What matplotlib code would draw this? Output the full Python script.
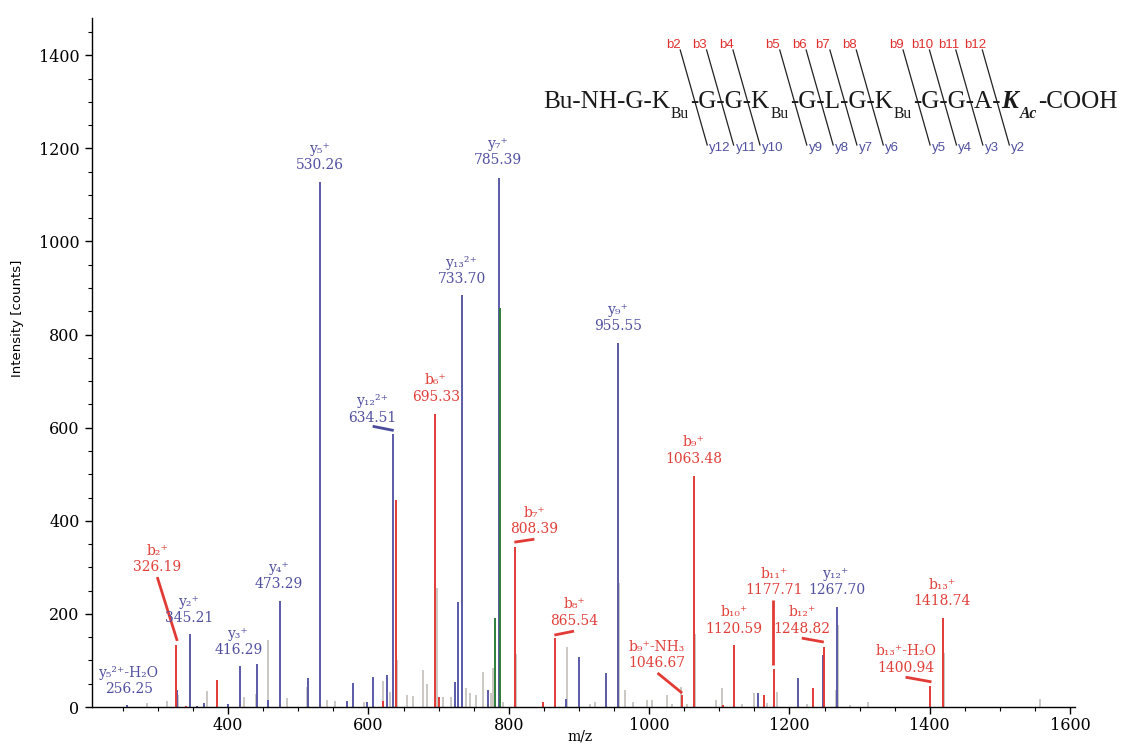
import matplotlib
matplotlib.use("Agg")
import matplotlib.pyplot as plt
from matplotlib.lines import Line2D
from matplotlib.ticker import MultipleLocator
from matplotlib.font_manager import FontProperties

# ---------------- data ----------------
blue_mz = [256.25, 327.5, 345.21, 356, 365, 400, 416.29, 441, 457, 473.29, 514, 530.26,
           569, 578, 598, 607, 626, 634.51, 724, 728, 733.70, 771, 785.39, 881, 900, 938,
           955.55, 1155, 1212, 1247.5, 1267.70]
blue_int = [4, 36, 157, 3, 8, 6, 88, 92, 15, 227, 62, 1127,
            13, 51, 10, 64, 69, 586, 54, 225, 884, 36, 1137, 17, 107, 73,
            781, 30, 62, 112, 215]

red_mz = [326.19, 340, 384, 621, 639, 695.33, 701, 808.39, 849, 865.54, 1046.67, 1063.48,
          1105, 1120.59, 1164, 1177.71, 1233, 1248.82, 1400.94, 1418.74]
red_int = [133, 3, 58, 13, 444, 629, 22, 343, 11, 148, 26, 496,
           5, 133, 26, 81, 41, 129, 45, 191]

green_mz = [780, 787.5]
green_int = [191, 856]

gray_mz = [285, 313, 329, 370, 423, 440, 457, 484, 512, 531.5, 541, 552, 594, 621, 631, 640,
           655, 663, 678, 683, 697, 706, 718, 739, 745, 753, 763, 774, 777, 792, 810, 883,
           916, 923, 957, 966, 977, 997, 1004, 1025, 1032, 1045, 1054, 1065, 1095, 1104,
           1133, 1150, 1168, 1182, 1225, 1266, 1269.5, 1286, 1312, 1420.5, 1557]
gray_int = [8, 13, 26, 35, 22, 28, 144, 19, 43, 191, 15, 12, 11, 56, 32, 102,
            26, 24, 79, 50, 255, 22, 22, 41, 30, 26, 76, 30, 84, 10, 114, 129,
            6, 11, 266, 36, 11, 15, 15, 26, 7, 43, 6, 157, 15, 41,
            6, 30, 8, 32, 6, 36, 176, 4, 11, 116, 17]

# ion labels
ion_names = ["y₅²⁺-H₂O", "b₂⁺", "y₂⁺", "y₃⁺", "y₄⁺", "y₅⁺", "y₁₂²⁺", "b₆⁺", "y₁₃²⁺", "y₇⁺",
             "b₇⁺", "b₈⁺", "y₉⁺", "b₉⁺-NH₃", "b₉⁺", "b₁₀⁺", "b₁₁⁺", "b₁₂⁺", "y₁₂⁺",
             "b₁₃⁺-H₂O", "b₁₃⁺"]
ion_mz = ["256.25", "326.19", "345.21", "416.29", "473.29", "530.26", "634.51", "695.33",
          "733.70", "785.39", "808.39", "865.54", "955.55", "1046.67", "1063.48", "1120.59",
          "1177.71", "1248.82", "1267.70", "1400.94", "1418.74"]
ion_type = ["y", "b", "y", "y", "y", "y", "y", "b", "y", "y",
            "b", "b", "y", "b", "b", "b", "b", "b", "y", "b", "b"]

# peptide scheme
residues = ["G", "K", "G", "G", "K", "G", "L", "G", "K", "G", "G", "A", "K"]
b_labels = ["b2", "b3", "b4", "b5", "b6", "b7", "b8", "b9", "b10", "b11", "b12"]
y_labels = ["y12", "y11", "y10", "y9", "y8", "y7", "y6", "y5", "y4", "y3", "y2"]

# ---------------- layout ----------------
label_pos = [(259, 56), (299, 318), (344.5, 209), (415, 139), (472.5, 281), (530.8, 1182),
             (606, 639), (695.8, 684), (732.7, 937), (785, 1193), (836.5, 399), (893, 203),
             (956, 835), (1011, 111), (1064, 551), (1121, 186), (1177.7, 268), (1217.6, 186),
             (1267, 268), (1365.5, 102), (1418, 245)]
leaders = [(299, 279, 327.5, 142, "b"), (606, 603, 636, 594, "y"), (808, 354, 836.5, 360.5, "b"),
           (865, 154.5, 893, 163, "b"), (1012, 73, 1047, 30, "b"), (1176, 230, 1176, 90, "b"),
           (1217.6, 148, 1249, 139.5, "b"), (1365.5, 64, 1402.5, 54, "b")]

C_BLUE = "#5a5aa8"
C_RED = "#e23b36"
C_GREEN = "#2f7d3a"
C_GRAY = "#bdb8b1"
T_BLUE = "#5151a0"
T_RED = "#e0403a"

W, H = 1126, 746
fig = plt.figure(figsize=(W / 100, H / 100), dpi=100)
ax = fig.add_axes([92 / W, 1 - 707 / H, (1075 - 92) / W, (707 - 18) / H])

ax.vlines(gray_mz, 0, gray_int, color=C_GRAY, lw=1.1, zorder=1)
ax.vlines(blue_mz, 0, blue_int, color=C_BLUE, lw=1.4, zorder=2)
ax.vlines(red_mz, 0, red_int, color=C_RED, lw=1.4, zorder=2)
ax.vlines(green_mz, 0, green_int, color=C_GREEN, lw=1.4, zorder=2)

ax.set_xlim(206, 1607)
ax.set_ylim(0, 1480)
ax.xaxis.set_major_locator(MultipleLocator(200))
ax.xaxis.set_minor_locator(MultipleLocator(50))
ax.yaxis.set_major_locator(MultipleLocator(200))
ax.yaxis.set_minor_locator(MultipleLocator(50))
for s in ["top", "right"]:
    ax.spines[s].set_visible(False)
for s in ["left", "bottom"]:
    ax.spines[s].set_linewidth(1.0)
ax.tick_params(which="major", length=5, width=1, direction="out", labelsize=11.5)
ax.tick_params(axis="x", which="major", pad=2)
ax.tick_params(axis="y", which="major", pad=4)
ax.tick_params(which="minor", length=3, width=0.8, direction="out")
for lab in ax.get_xticklabels() + ax.get_yticklabels():
    lab.set_family("DejaVu Serif")
fig.text(580 / W, 1 - 736 / H, "m/z", ha="center", va="center", family="DejaVu Serif",
         fontsize=10)
fig.text(18 / W, 1 - 318 / H, "Intensity [counts]", ha="center", va="center", rotation=90,
         family=["Liberation Sans Narrow", "DejaVu Sans"], fontsize=9.5)

for name, mzt, typ, (lx, ly) in zip(ion_names, ion_mz, ion_type, label_pos):
    col = T_RED if typ == "b" else T_BLUE
    ax.text(lx, ly, name + "\n" + mzt, ha="center", va="center", color=col,
            family=["DejaVu Serif", "DejaVu Sans"], fontsize=10, linespacing=1.2, zorder=4)

for x0, y0, x1, y1, typ in leaders:
    col = C_RED if typ == "b" else "#4b4b9b"
    ax.plot([x0, x1], [y0, y1], color=col, lw=2.0, solid_capstyle="butt", zorder=3)

# ---------------- peptide scheme ----------------
renderer = fig.canvas.get_renderer()
FAM = "Liberation Serif"

seg = [("Bu-NH-", "n")]
for i, r in enumerate(residues):
    last = i == len(residues) - 1
    seg.append((r, "bi" if last else "n"))
    if r == "K":
        seg.append(("Ac" if last else "Bu", "bisub" if last else "sub"))
    seg.append(("-", "n"))
seg.append(("COOH", "n"))
merged = []
for s, st in seg:
    if merged and merged[-1][1] == st == "n":
        merged[-1] = (merged[-1][0] + s, "n")
    else:
        merged.append((s, st))


def props(st, fs):
    if st == "n":
        return FontProperties(family=FAM, size=fs)
    if st == "sub":
        return FontProperties(family=FAM, size=fs * 0.62)
    if st == "bi":
        return FontProperties(family=FAM, size=fs, weight="bold", style="italic")
    return FontProperties(family=FAM, size=fs * 0.62, weight="bold", style="italic")


def width(s, fp):
    if not s:
        return 0.0
    w, h, d = renderer.get_text_width_height_descent(s, fp, ismath=False)
    return w


def gap(st, fs):
    return fs * (0.08 if st != "n" else 0.04)


def total_width(fs):
    return sum(width(s, props(st, fs)) + gap(st, fs) for s, st in merged)

x_start, x_end = 543, 1122
FS = 20.0
FS = FS * (x_end - x_start) / total_width(FS)
base_y = 108
sub_y = 118

x = x_start
hyphens = []
for s, st in merged:
    fp = props(st, FS)
    y = sub_y if st in ("sub", "bisub") else base_y
    fig.text(x / W, 1 - y / H, s, fontproperties=fp, ha="left", va="baseline", color="#1a1a1a")
    for i, ch in enumerate(s):
        if ch == "-":
            hyphens.append(x + (width(s[:i], fp) + width(s[:i + 1], fp)) / 2)
    x += width(s, fp) + gap(st, FS)

cuts = hyphens[3:14]
yc, ytop, ybot = 100, 50, 145
slope = 27 / 95
for hx, bl, yl in zip(cuts, b_labels, y_labels):
    tx = hx - (yc - ytop) * slope
    bx = hx + (ybot - yc) * slope
    fig.add_artist(Line2D([tx / W, bx / W], [1 - ytop / H, 1 - ybot / H], color="#222222", lw=0.9))
    fig.text((tx - 7) / W, 1 - 45 / H, bl, ha="center", va="center", color="#e03030",
             family=["Liberation Sans", "DejaVu Sans"], fontsize=9.5)
    fig.text((bx + 2) / W, 1 - 148 / H, yl, ha="left", va="center", color="#5050a0",
             family=["Liberation Sans", "DejaVu Sans"], fontsize=9.5)

fig.savefig("out.png", dpi=100)
